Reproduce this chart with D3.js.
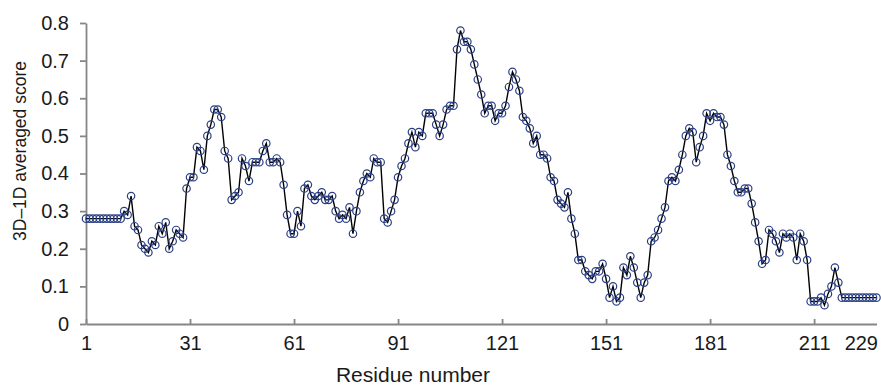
<!DOCTYPE html>
<html>
<head>
<meta charset="utf-8">
<script src="https://cdn.jsdelivr.net/npm/d3@7"></script>
<style>
  body { margin: 0; background: #fff; }
  svg { display: block; font-family: "Liberation Sans", Arial, sans-serif; }
  .axis path, .axis line { stroke: #868686; stroke-width: 1.8; }
  .axis text { fill: #1a1a1a; font-size: 20px; }
  .title { fill: #1a1a1a; }
</style>
</head>
<body>
<div id="chart"></div>
<script>
// residue numbers shown on the x axis
const xTicks = [1, 31, 61, 91, 121, 151, 181, 211, 229];
const yTicks = [0, 0.1, 0.2, 0.3, 0.4, 0.5, 0.6, 0.7, 0.8];

// 3D-1D averaged score per residue, residue 1 .. 229
const scores = [
  0.28, 0.28, 0.28, 0.28, 0.28, 0.28, 0.28, 0.28, 0.28, 0.28, 0.28,
  0.30, 0.29, 0.34, 0.26, 0.25, 0.21, 0.20, 0.19, 0.22, 0.21,
  0.26, 0.24, 0.27, 0.20, 0.22, 0.25, 0.24, 0.23, 0.36, 0.39,
  0.39, 0.47, 0.46, 0.41, 0.50, 0.53, 0.57, 0.57, 0.55, 0.46,
  0.44, 0.33, 0.34, 0.35, 0.44, 0.42, 0.38, 0.43, 0.43, 0.43,
  0.46, 0.48, 0.43, 0.43, 0.44, 0.43, 0.37, 0.29, 0.24, 0.24,
  0.30, 0.26, 0.36, 0.37, 0.34, 0.33, 0.34, 0.35, 0.33, 0.33,
  0.34, 0.30, 0.28, 0.29, 0.28, 0.31, 0.24, 0.30, 0.35, 0.38,
  0.40, 0.39, 0.44, 0.43, 0.43, 0.28, 0.27, 0.30, 0.33, 0.39,
  0.42, 0.44, 0.48, 0.51, 0.47, 0.51, 0.50, 0.56, 0.56, 0.56,
  0.53, 0.50, 0.53, 0.57, 0.58, 0.58, 0.73, 0.78, 0.75, 0.75,
  0.73, 0.69, 0.65, 0.61, 0.56, 0.58, 0.58, 0.54, 0.56, 0.56,
  0.58, 0.63, 0.67, 0.65, 0.62, 0.55, 0.54, 0.52, 0.48, 0.50,
  0.45, 0.45, 0.44, 0.39, 0.38, 0.33, 0.32, 0.31, 0.35, 0.28,
  0.24, 0.17, 0.17, 0.14, 0.13, 0.12, 0.14, 0.14, 0.16, 0.12,
  0.07, 0.10, 0.06, 0.07, 0.15, 0.13, 0.18, 0.15, 0.11, 0.07,
  0.11, 0.13, 0.22, 0.23, 0.25, 0.28, 0.31, 0.38, 0.39, 0.38,
  0.41, 0.45, 0.50, 0.52, 0.51, 0.43, 0.47, 0.50, 0.56, 0.54,
  0.56, 0.55, 0.55, 0.53, 0.45, 0.42, 0.38, 0.35, 0.35, 0.36,
  0.36, 0.32, 0.27, 0.22, 0.16, 0.17, 0.25, 0.24, 0.22, 0.19,
  0.24, 0.23, 0.24, 0.23, 0.17, 0.24, 0.22, 0.17, 0.06, 0.06,
  0.06, 0.07, 0.05, 0.08, 0.10, 0.15, 0.11,
  0.07, 0.07, 0.07, 0.07, 0.07, 0.07, 0.07, 0.07, 0.07, 0.07, 0.07
];

const width = 881;
const height = 387;
const plotLeft = 86;
const plotRight = 876.5;
const plotTop = 23;
const plotBottom = 324;

const data = scores.map((v, i) => ({ x: i + 1, y: v }));

const svg = d3.select('#chart')
  .append('svg')
  .attr('width', width)
  .attr('height', height);

const x = d3.scaleLinear()
  .domain([1, 229])
  .range([plotLeft, plotRight]);
const y = d3.scaleLinear()
  .domain([0, 0.8])
  .range([plotBottom, plotTop]);

// y axis
const yAxis = d3.axisLeft(y)
  .tickValues(yTicks)
  .tickSizeInner(6)
  .tickSizeOuter(0)
  .tickPadding(11)
  .tickFormat((d) => d === 0 ? '0' : d3.format('.1f')(d));
svg.append('g')
  .attr('class', 'axis')
  .attr('transform', `translate(${plotLeft}, 0)`)
  .call(yAxis);

// x axis, ticks point into the plot
const xAxis = d3.axisBottom(x)
  .tickValues(xTicks)
  .tickSizeInner(-5)
  .tickSizeOuter(0)
  .tickPadding(12);
const gx = svg.append('g')
  .attr('class', 'axis')
  .attr('transform', `translate(0, ${plotBottom})`)
  .call(xAxis);

// last label sits flush with the axis end, no tick mark
gx.selectAll('.tick')
  .filter((d) => d === 229)
  .call((t) => t.select('line').remove())
  .select('text')
  .attr('text-anchor', 'end')
  .attr('x', 1);

// the line
const valueline = d3.line()
  .x((d) => x(d.x))
  .y((d) => y(d.y));
svg.append('path')
  .datum(data)
  .attr('d', valueline)
  .attr('fill', 'none')
  .attr('stroke', '#000')
  .attr('stroke-width', 1.4);

// open markers
svg.append('g')
  .selectAll('circle')
  .data(data)
  .enter()
  .append('circle')
  .attr('cx', (d) => x(d.x))
  .attr('cy', (d) => y(d.y))
  .attr('r', 3.7)
  .attr('fill', 'none')
  .attr('stroke', '#2a3f86')
  .attr('stroke-width', 1.2);

// axis titles
svg.append('text')
  .attr('class', 'title')
  .attr('x', 413)
  .attr('y', 382)
  .attr('text-anchor', 'middle')
  .style('font-size', '21px')
  .text('Residue number');

svg.append('text')
  .attr('class', 'title')
  .attr('transform', 'translate(26, 151) rotate(-90)')
  .attr('text-anchor', 'middle')
  .style('font-size', '17.5px')
  .text('3D–1D averaged score');
</script>
</body>
</html>
